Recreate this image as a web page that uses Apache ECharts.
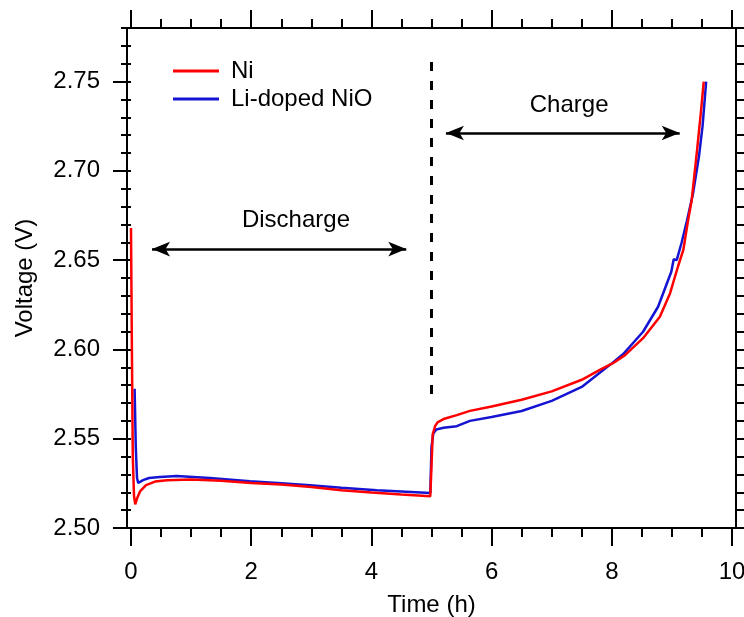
<!DOCTYPE html>
<html><head><meta charset="utf-8">
<script src="https://cdn.jsdelivr.net/npm/echarts@6/dist/echarts.min.js"></script>
<style>html,body{margin:0;padding:0;background:#fff}#c{width:744px;height:617px}</style>
</head><body><div id="c"></div>
<script>
// ---- data ----
const niTime = [0, 0.015, 0.03, 0.05, 0.07, 0.10, 0.15, 0.25, 0.40, 0.60, 1.0, 1.5, 2.0, 2.5, 3.0, 3.5, 4.0, 4.5, 4.98, 5.0, 5.02, 5.06, 5.10, 5.20, 5.42, 5.64, 6.0, 6.5, 7.0, 7.5, 7.8, 8.02, 8.22, 8.52, 8.80, 8.97, 9.10, 9.19, 9.27, 9.33, 9.42, 9.48, 9.53];
const niVolt = [2.668, 2.600, 2.540, 2.518, 2.5133, 2.5165, 2.5205, 2.5240, 2.5260, 2.5268, 2.5271, 2.5265, 2.5252, 2.5243, 2.5230, 2.5212, 2.5199, 2.5188, 2.5178, 2.5350, 2.5525, 2.5570, 2.5592, 2.5610, 2.5632, 2.5656, 2.5680, 2.5718, 2.5765, 2.5830, 2.5885, 2.5923, 2.5968, 2.6063, 2.6183, 2.6315, 2.6463, 2.6557, 2.6725, 2.6837, 2.7120, 2.7320, 2.7500];
const liTime = [0.06, 0.08, 0.10, 0.12, 0.20, 0.30, 0.48, 0.76, 1.31, 1.98, 2.50, 2.98, 3.50, 4.09, 4.50, 4.98, 5.00, 5.03, 5.08, 5.20, 5.42, 5.64, 6.0, 6.5, 7.0, 7.5, 7.8, 8.0, 8.19, 8.52, 8.77, 8.99, 9.03, 9.08, 9.16, 9.25, 9.35, 9.45, 9.51, 9.57];
const liVolt = [2.578, 2.545, 2.528, 2.5252, 2.5268, 2.5280, 2.5286, 2.5291, 2.5280, 2.5262, 2.5250, 2.5239, 2.5225, 2.5211, 2.5204, 2.5196, 2.5454, 2.5529, 2.5552, 2.5561, 2.5570, 2.5600, 2.5622, 2.5655, 2.5712, 2.5790, 2.5869, 2.5922, 2.5974, 2.6099, 2.6239, 2.6435, 2.6505, 2.6500, 2.6596, 2.6720, 2.6870, 2.7080, 2.7250, 2.7500];
const seriesNames = ['Ni', 'Li-doped NiO'];
const xTicks = [0, 2, 4, 6, 8, 10];
const yTicks = [2.50, 2.55, 2.60, 2.65, 2.70, 2.75];
const annotationLabels = ['Discharge', 'Charge'];
// annotation anchors in data units
const dischargeArrow = [0.35, 4.58, 2.6562];
const chargeArrow = [5.24, 9.13, 2.7212];
const switchLine = [5.0, 2.5706, 2.761];
const labelAnchors = [[2.745, 2.672], [7.29, 2.7365]];

const FONT = '"Liberation Sans", Arial, sans-serif';
const FS = 24;
const BLACK = '#000';
const tickStyle = { color: BLACK, width: 2 };

function pairs(t, v) { return t.map((x, i) => [x, v[i]]); }

const chart = echarts.init(document.getElementById('c'));
const option = {
  animation: false,
  textStyle: { fontFamily: FONT },
  grid: [
    { left: 127, right: 8, top: 28, bottom: 89, show: true, borderColor: BLACK, borderWidth: 2, backgroundColor: 'transparent', outerBoundsMode: 'none', containLabel: false },
    { left: 131, right: 12, top: 28, bottom: 89, outerBoundsMode: 'none', containLabel: false }
  ],
  legend: {
    data: seriesNames, orient: 'vertical', left: 173, top: 59,
    icon: 'rect', itemWidth: 46, itemHeight: 3, itemGap: 4, padding: 0,
    textStyle: { fontSize: FS, color: BLACK, fontFamily: FONT, padding: [0, 0, 0, 7] }
  },
  xAxis: [
    { gridIndex: 0, type: 'value', show: false, min: 0, max: 1 },
    {
      gridIndex: 1, type: 'value', position: 'bottom', min: xTicks[0], max: xTicks[xTicks.length - 1], interval: 2,
      axisLine: { show: false },
      axisTick: { show: true, length: 18, lineStyle: tickStyle },
      minorTick: { show: true, splitNumber: 4, length: 9, lineStyle: tickStyle },
      axisLabel: { fontSize: FS, color: BLACK, margin: 32, fontFamily: FONT },
      splitLine: { show: false }, minorSplitLine: { show: false },
      name: 'Time (h)', nameLocation: 'middle', nameGap: 65,
      nameTextStyle: { fontSize: FS, color: BLACK, fontFamily: FONT }
    },
    {
      gridIndex: 1, type: 'value', position: 'top', min: xTicks[0], max: xTicks[xTicks.length - 1], interval: 2,
      axisLine: { show: false },
      axisTick: { show: true, length: 18, lineStyle: tickStyle },
      minorTick: { show: true, splitNumber: 4, length: 9, lineStyle: tickStyle },
      axisLabel: { show: false }, splitLine: { show: false }
    }
  ],
  yAxis: [
    { gridIndex: 0, type: 'value', show: false, min: 0, max: 1 },
    {
      gridIndex: 1, type: 'value', position: 'left', offset: 4, min: 2.5, max: 2.78,
      axisLine: { show: false },
      axisTick: { show: true, length: 18, customValues: yTicks, lineStyle: tickStyle },
      axisLabel: { customValues: yTicks, formatter: v => v.toFixed(2), fontSize: FS, color: BLACK, margin: 27, fontFamily: FONT },
      splitLine: { show: false },
      name: 'Voltage (V)', nameLocation: 'middle', nameGap: 90,
      nameTextStyle: { fontSize: FS, color: BLACK, fontFamily: FONT }
    },
    {
      gridIndex: 1, type: 'value', position: 'left', offset: 4, min: 2.5, max: 2.78, interval: 0.01,
      axisLine: { show: false }, axisTick: { show: true, length: 10, lineStyle: tickStyle },
      axisLabel: { show: false }, splitLine: { show: false }
    },
    {
      gridIndex: 1, type: 'value', position: 'right', offset: 4, min: 2.5, max: 2.78, interval: 0.01,
      axisLine: { show: false }, axisTick: { show: true, length: 10, lineStyle: tickStyle },
      axisLabel: { show: false }, splitLine: { show: false }
    }
  ],
  series: [
    {
      name: seriesNames[1], type: 'line', xAxisIndex: 1, yAxisIndex: 1,
      data: pairs(liTime, liVolt), symbol: 'none', color: '#1414d2',
      lineStyle: { width: 2.5, color: '#1414d2' }, z: 3
    },
    {
      name: seriesNames[0], type: 'line', xAxisIndex: 1, yAxisIndex: 1,
      data: pairs(niTime, niVolt), symbol: 'none', color: '#ff0000',
      lineStyle: { width: 2.5, color: '#ff0000' }, z: 4,
      markLine: {
        silent: true, animation: false, label: { show: false },
        lineStyle: { color: BLACK, width: 2.5, type: 'solid' },
        symbol: ['arrow', 'arrow'], symbolSize: [11, 18],
        data: [
          [{ coord: [dischargeArrow[0], dischargeArrow[2]] }, { coord: [dischargeArrow[1], dischargeArrow[2]] }],
          [{ coord: [chargeArrow[0], chargeArrow[2]] }, { coord: [chargeArrow[1], chargeArrow[2]] }],
          [{ coord: [switchLine[0], switchLine[2]], symbol: 'none', lineStyle: { color: BLACK, width: 3, type: [9, 10] } },
           { coord: [switchLine[0], switchLine[1]], symbol: 'none' }]
        ]
      },
      markPoint: {
        silent: true, symbol: 'circle', symbolSize: 1,
        itemStyle: { color: 'rgba(0,0,0,0)' },
        label: { show: true, position: 'inside', color: BLACK, fontSize: FS, fontFamily: FONT, formatter: p => p.name },
        data: [
          { name: annotationLabels[0], coord: labelAnchors[0] },
          { name: annotationLabels[1], coord: labelAnchors[1] }
        ]
      }
    }
  ]
};
chart.setOption(option);
</script></body></html>
